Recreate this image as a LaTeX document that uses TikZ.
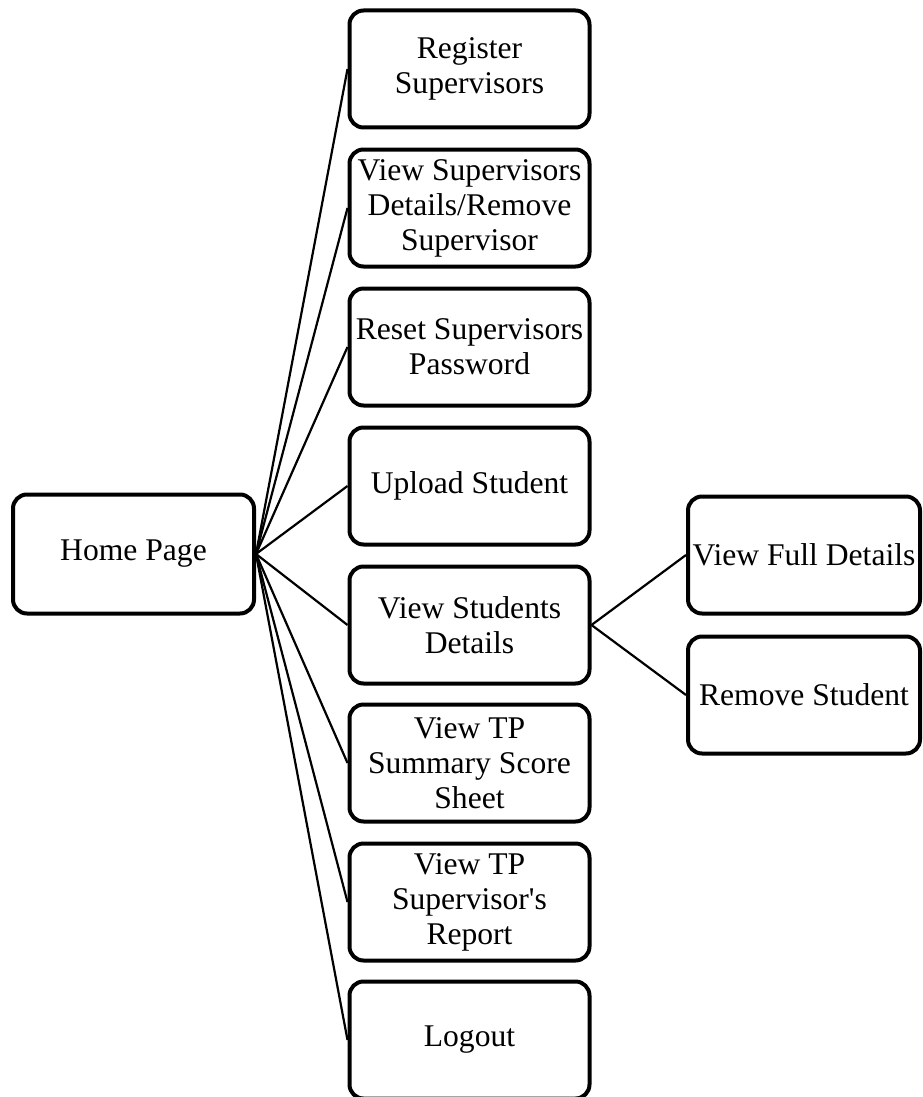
\documentclass[tikz,border=0pt]{standalone}
\usepackage{fontspec}
\setmainfont{Liberation Serif}
\begin{document}
\begin{tikzpicture}[x=1pt,y=-1pt,
  box/.style={draw=black, line width=4pt, rounded corners=14pt, minimum width=240pt,
    minimum height=117pt, align=center, inner sep=0pt,
    font=\fontsize{31.6}{35}\selectfont},
  rbox/.style={box, minimum width=232pt},
  link/.style={draw=black, line width=2.2pt}]
\useasboundingbox (0,0) rectangle (923,1097);
\node[box, minimum width=241pt, minimum height=119pt] (home) at (133.5,554) {Home Page};
\node[box] (b1) at (469.5,69) {Register\\Supervisors};
\node[box] (b2) at (469.5,208) {View Supervisors\\Details/Remove\\Supervisor};
\node[box] (b3) at (469.5,347) {Reset Supervisors\\Password};
\node[box] (b4) at (469.5,486) {Upload Student};
\node[box] (b5) at (469.5,625) {View Students\\Details};
\node[box] (b6) at (469.5,763) {View TP\\Summary Score\\Sheet};
\node[box] (b7) at (469.5,902) {View TP\\Supervisor\textquotesingle s\\Report};
\node[box] (b8) at (469.5,1040) {Logout};
\node[rbox] (r1) at (804,555) {View Full Details};
\node[rbox] (r2) at (804,695) {Remove Student};
\foreach \b in {b1,b2,b3,b4,b5,b6,b7,b8}
  \draw[link] (home.east) -- (\b.west);
\draw[link] (b5.east) -- (r1.west);
\draw[link] (b5.east) -- (r2.west);
\end{tikzpicture}
\end{document}
